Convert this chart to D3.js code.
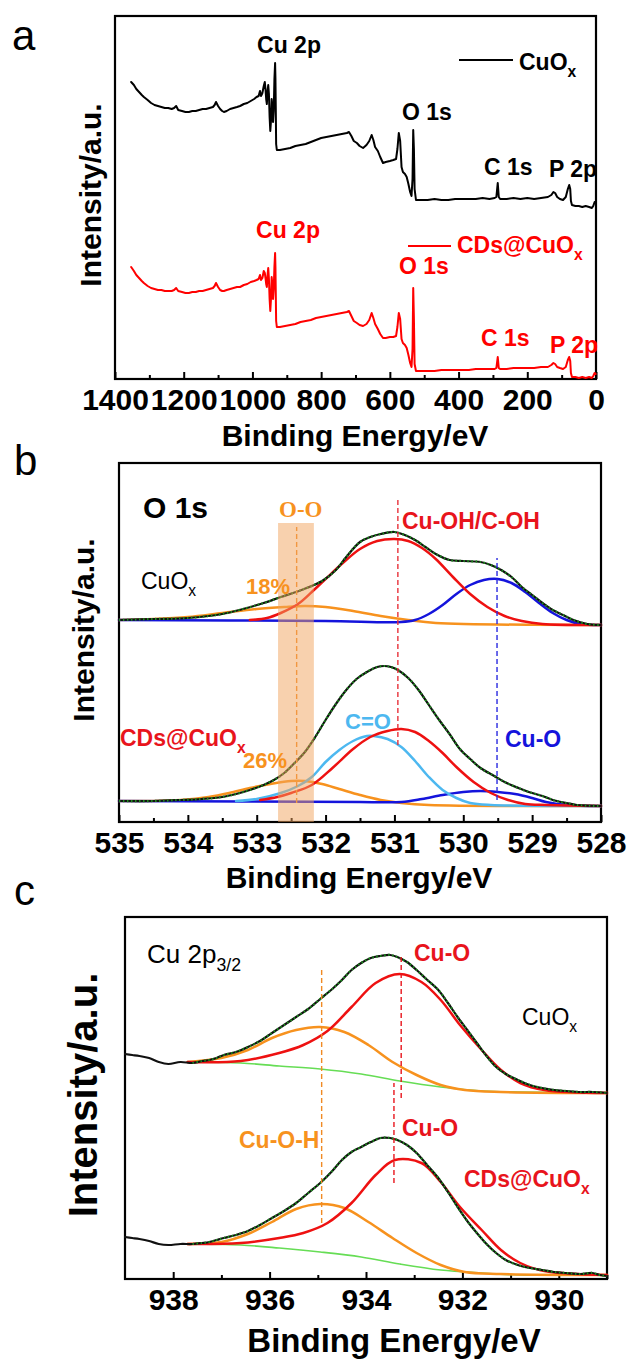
<!DOCTYPE html>
<html>
<head>
<meta charset="utf-8">
<script src="https://cdn.jsdelivr.net/npm/d3@7"></script>
<style>
  body { margin: 0; background: #fff; }
  svg { display: block; font-family: "Liberation Sans", Arial, sans-serif; }
</style>
</head>
<body>
<svg id="fig" width="629" height="1365"></svg>
<script>
// ---- panel a: survey spectra [binding energy eV, intensity a.u.] ----
var surveyTicks = [1400, 1200, 1000, 800, 600, 400, 200, 0];
var surveyCuOx = [
  [1353,297],[1345,294],[1338,290],[1330,287],[1322,284],[1316,282],[1305,279],[1295,276],[1285,274],
  [1275,273],[1265,272],[1255,271],[1245,271],[1235,270],[1228,271],[1222,273],[1216,269],[1205,268],
  [1195,267],[1185,267],[1175,268],[1165,268],[1155,269],[1145,270],[1135,270],[1125,271],[1115,272],
  [1110,274],[1106,277],[1100,273],[1094,270],[1088,268],[1083,267],[1075,268],[1065,270],[1055,271],
  [1045,272],[1036,273],[1025,275],[1015,276],[1005,278],[995,280],[988,282],[982,283],[978,288],
  [975,283],[971,286],[967,293],[964,297],[962,290],[960,280],[958,275],[956,288],[954,294],[952,285],
  [950,262],[948,248],[946,258],[944,280],[942,272],[940,257],[938,268],[936,300],[934,316],[933,300],
  [932,270],[931,235],[929,229],[920,229],[905,230],[890,231],[875,233],[860,234],[845,235],[830,237],
  [815,239],[800,241],[785,242],[770,243],[755,244],[740,245],[725,246],[719,247],[712,243],[705,238],
  [696,236],[688,233],[678,231],[668,234],[660,238],[653,244],[648,239],[643,232],[635,228],[628,222],
  [620,216],[612,217],[600,218],[590,219],[582,220],[578,230],[574,246],[570,238],[566,212],[562,207],
  [556,205],[551,202],[546,195],[541,187],[537,183],[534,200],[532,249],[530,230],[528,190],[524,179],
  [510,179],[490,179],[470,180],[450,179],[430,179],[410,180],[390,180],[370,180],[350,180],[330,181],
  [310,180],[295,181],[290,182],[286,196],[283,182],[279,180],[260,180],[240,181],[220,180],[200,181],
  [180,180],[160,181],[140,182],[130,184],[124,187],[119,186],[113,182],[105,180],[96,179],[88,182],
  [82,190],[78,194],[75,190],[73,178],[70,174],[60,173],[50,173],[40,172],[30,173],[20,172],[12,171],
  [8,173],[4,177],[1,176]
];
var surveyCDs = [
  [1353,112],[1345,108],[1338,104],[1330,101],[1322,98],[1316,96],[1305,93],[1295,91],[1285,90],
  [1275,89],[1265,89],[1255,88],[1245,88],[1235,88],[1228,89],[1222,91],[1216,88],[1205,87],[1195,86],
  [1185,86],[1175,87],[1165,87],[1155,88],[1145,88],[1135,89],[1125,90],[1115,91],[1110,93],[1106,96],
  [1100,92],[1094,89],[1088,88],[1083,88],[1075,89],[1065,90],[1055,91],[1045,92],[1036,92],[1025,94],
  [1015,95],[1005,97],[995,98],[988,99],[982,100],[978,104],[975,99],[971,101],[967,108],[964,106],
  [962,101],[960,95],[958,92],[956,104],[954,111],[952,100],[950,80],[948,68],[946,80],[944,102],
  [942,95],[940,80],[938,90],[936,112],[934,126],[933,112],[932,85],[931,58],[929,52],[920,52],[905,53],
  [890,54],[875,55],[860,57],[845,58],[830,59],[815,61],[800,62],[785,63],[770,64],[755,65],[740,66],
  [725,67],[719,68],[712,63],[705,58],[696,56],[688,54],[678,53],[668,55],[660,59],[653,66],[648,61],
  [643,55],[635,50],[628,45],[620,41],[612,41],[600,42],[590,42],[582,43],[578,52],[574,66],[570,60],
  [566,40],[562,36],[556,34],[551,31],[546,24],[541,16],[537,12],[534,30],[532,91],[530,60],[528,15],
  [524,8],[510,8],[490,8],[470,8],[450,9],[430,9],[410,9],[390,9],[370,9],[350,10],[330,10],[310,10],
  [295,10],[290,11],[286,22],[283,11],[279,10],[260,10],[240,11],[220,11],[200,11],[180,11],[160,12],
  [140,12],[130,14],[124,16],[119,15],[113,12],[105,11],[96,10],[88,12],[82,19],[78,22],[75,18],
  [73,6],[70,2],[60,2],[50,1],[40,2],[30,1],[20,2],[12,1],[8,3],[4,6],[1,5]
];

// ---- panel b: O 1s ----
var o1sTicks = [535, 534, 533, 532, 531, 530, 529, 528];
var o1sEnvCuOx = [
  [535,202],[534.5,203],[534,204],[533.5,208],[533.2,213],[532.9,219],[532.65,225],[532.35,232],
  [532.05,241],[531.85,252],[531.7,265],[531.5,280],[531.35,285],[531.2,288],[531,290],[530.85,287],
  [530.7,282],[530.55,275],[530.4,268],[530.2,262],[530,261],[529.75,260],[529.6,257],[529.45,252],
  [529.3,245],[529.15,235],[529,227],[528.85,219],[528.7,212],[528.55,207],[528.4,202],[528.2,198],[528,197]
];
var o1sRedCuOx = [
  [533.1,202],[532.85,204],[532.65,209],[532.4,218],[532.2,230],[532,243],[531.75,259],[531.5,273],
  [531.25,281],[531,283],[530.8,281],[530.6,274],[530.4,263],[530.15,245],[529.9,228],[529.65,215],
  [529.4,206],[529.15,201],[528.85,198],[528,197]
];
var o1sBlueCuOx = [
  [535,202],[532,201],[530.9,200],[530.7,202],[530.5,208],[530.3,217],[530.1,228],[529.9,237],
  [529.7,242],[529.5,243],[529.3,239],[529.1,230],[528.9,219],[528.7,209],[528.5,202],[528.3,198],[528,197]
];
var o1sOrangeCuOx = [
  [535,202],[534.5,203],[534,205],[533.5,209],[533,213],[532.6,215],[532.3,216],[532,215],[531.6,211],
  [531.2,206],[530.8,202],[530.4,199],[528,197]
];
var o1sEnvCDs = [
  [535,21],[534.5,21],[534.1,22],[533.8,23],[533.5,25],[533.3,28],[533.1,32],[532.9,37],[532.75,42],
  [532.6,49],[532.45,59],[532.3,70],[532.15,85],[532,102],[531.85,118],[531.7,132],[531.55,143],
  [531.4,150],[531.25,155],[531.15,156],[531.05,155],[530.95,152],[530.8,144],[530.65,132],[530.5,117],
  [530.35,102],[530.2,88],[530.05,73],[529.9,63],[529.75,54],[529.55,46],[529.4,40],[529.2,34],
  [529.05,30],[528.85,26],[528.7,22],[528.5,19],[528.35,17],[528,16]
];
var o1sRedCDs = [
  [532.95,22],[532.7,25],[532.5,29],[532.2,37],[531.9,54],[531.6,73],[531.35,85],[531.1,91],[530.9,93],
  [530.7,90],[530.5,81],[530.3,69],[530.1,55],[529.85,40],[529.6,29],[529.35,22],[529.1,18],[528.8,17],[528,16]
];
var o1sCyanCDs = [
  [533.3,21],[533,23],[532.65,29],[532.4,36],[532.2,45],[532,60],[531.8,72],[531.6,81],[531.4,86],
  [531.3,86],[531.1,83],[530.9,75],[530.7,61],[530.5,45],[530.3,32],[530.1,24],[529.9,19],[529.6,17],[528,16]
];
var o1sOrangeCDs = [
  [535,21],[534.5,21],[534.1,22],[533.7,25],[533.4,29],[533.1,34],[532.8,38],[532.5,41],[532.3,41],
  [532.05,38],[531.8,33],[531.5,27],[531.2,22],[530.9,19],[530.5,17],[528,16]
];
var o1sBlueCDs = [
  [535,21],[531.5,20],[530.9,20],[530.6,23],[530.3,27],[530,30],[529.75,31],[529.5,30],[529.25,28],
  [529,24],[528.8,20],[528.5,17],[528,16]
];
// [energy, low, high] guide lines and the O-O band [from, to, top]
var o1sGuides = [[532.42, 19, 295, '#f08a24'], [530.95, 77, 322, '#e8323a'], [529.51, 22, 264, '#2a2ae0']];
var o1sBand = [532.69, 532.17, 299];

// ---- panel c: Cu 2p3/2 ----
var cuTicks = [938, 936, 934, 932, 930];
var cuRawCuOx = [
  [939,225],[938.85,224],[938.7,223],[938.5,221],[938.3,217],[938.1,215],[937.85,217],[937.6,216],
  [937.4,218],[937.25,219],[937.1,221],[936.95,224],[936.7,227],[936.45,232],[936.2,238],[935.95,246],
  [935.7,254],[935.45,262],[935.2,270],[934.95,280],[934.7,290],[934.5,299],[934.3,309],[934.1,316],
  [933.9,321],[933.7,323],[933.5,324],[933.35,322],[933.15,317],[932.95,309],[932.75,300],[932.5,289],
  [932.3,276],[932.1,262],[931.9,249],[931.7,236],[931.5,223],[931.3,212],[931.1,205],[930.85,199],
  [930.6,194],[930.35,191],[930.1,189],[929.85,188],[929.55,187],[929.3,187],[929,186]
];
var cuBgCuOx = [
  [937.7,217],[936.6,216],[935.8,213],[934.95,210],[934.1,205],[933.3,198],[932.45,192],[931.6,188],[930.8,187],[929,186]
];
var cuOrangeCuOx = [
  [937.7,217],[937,221],[936.45,229],[935.95,241],[935.45,249],[934.95,252],[934.45,247],[933.95,234],
  [933.45,217],[932.95,204],[932.45,194],[931.95,189],[931.2,187],[929,186]
];
var cuRedCuOx = [
  [937.7,217],[936.6,218],[935.8,226],[935.3,234],[934.8,248],[934.3,272],[933.8,296],[933.3,305],
  [932.85,297],[932.45,279],[932.05,254],[931.6,229],[931.2,209],[930.8,196],[930.3,189],[929,186]
];
var cuRawCDs = [
  [939,42],[938.85,41],[938.7,40],[938.5,38],[938.3,35],[938.1,34],[937.85,35],[937.6,35],[937.4,36],
  [937.25,37],[937.1,39],[936.95,41],[936.7,44],[936.45,48],[936.2,54],[935.95,61],[935.7,68],
  [935.45,76],[935.2,86],[934.95,96],[934.7,108],[934.5,119],[934.3,127],[934.1,132],[933.9,137],
  [933.7,141],[933.5,141],[933.35,139],[933.15,134],[932.95,126],[932.75,115],[932.5,101],[932.3,87],
  [932.1,72],[931.9,58],[931.7,46],[931.5,35],[931.3,26],[931.1,19],[930.85,14],[930.6,11],[930.35,9],
  [930.1,7],[929.85,6],[929.55,5],[929.3,6],[929.15,4],[929,3]
];
var cuBgCDs = [
  [937.7,35],[936.6,34],[935.8,31],[934.95,27],[934.1,22],[933.3,15],[932.45,9],[931.6,6],[930.8,4],[929,4]
];
var cuOrangeCDs = [
  [937.7,35],[937,37],[936.45,45],[935.95,57],[935.45,70],[934.95,75],[934.45,71],[933.95,57],
  [933.45,41],[932.95,26],[932.45,14],[931.95,7],[931.2,5],[929,4]
];
var cuRedCDs = [
  [937.7,35],[936.6,36],[935.8,41],[935.3,46],[934.8,56],[934.3,76],[933.8,104],[933.4,119],
  [932.85,116],[932.45,97],[932.05,72],[931.6,49],[931.2,29],[930.8,16],[930.3,8],[929,4]
];
var cuGuides = [[934.92, 56, 310, '#f08a24'], [933.27, 181, 324, '#e8141c'], [933.42, 96, 196, '#e8141c']];

var RED = '#ee1111', ORANGE = '#f7921e', BLUE = '#1414dc', CYAN = '#4db8f0',
    DKGREEN = '#1f8c1f', LTGREEN = '#66dd55';

var svg = d3.select('#fig');
svg.append('rect').attr('width', 629).attr('height', 1365).attr('fill', '#fff');

function makePanel(opts) {
    var g = svg.append('g');
    var x = d3.scaleLinear().domain(opts.xDomain).range([opts.left, opts.right]);
    var y = d3.scaleLinear().domain(opts.yDomain).range([opts.bottom, opts.top]);

    // minor ticks, then labelled ticks, both pointing into the box
    g.append('g')
        .attr('transform', 'translate(0,' + opts.bottom + ')')
        .call(d3.axisBottom(x).tickValues(opts.minor).tickSize(-4).tickFormat(''))
        .call(a => a.select('.domain').remove())
        .selectAll('line').attr('stroke-width', 2);
    var ax = g.append('g')
        .attr('transform', 'translate(0,' + opts.bottom + ')')
        .call(d3.axisBottom(x).tickValues(opts.ticks).tickSize(-7).tickPadding(10).tickFormat(d3.format('d')));
    ax.select('.domain').remove();
    ax.selectAll('line').attr('stroke-width', 2);
    ax.selectAll('text')
        .attr('font-family', '"Liberation Sans", Arial, sans-serif')
        .attr('font-size', 30).attr('font-weight', 'bold').attr('fill', '#000');

    g.append('rect')
        .attr('x', opts.left).attr('y', opts.top)
        .attr('width', opts.right - opts.left).attr('height', opts.bottom - opts.top)
        .attr('fill', 'none').attr('stroke', '#000').attr('stroke-width', 2.2);

    g.append('text')
        .attr('x', opts.xLabel[0]).attr('y', opts.xLabel[1])
        .attr('text-anchor', 'middle').attr('font-weight', 'bold')
        .attr('font-size', opts.xLabel[2]).text('Binding Energy/eV');
    g.append('text')
        .attr('transform', 'translate(' + opts.yLabel[0] + ',' + opts.yLabel[1] + ') rotate(-90)')
        .attr('text-anchor', 'middle').attr('font-weight', 'bold')
        .attr('font-size', opts.yLabel[2]).text('Intensity/a.u.');
    g.append('text')
        .attr('x', opts.letter[1]).attr('y', opts.letter[2])
        .attr('font-size', 42).text(opts.letter[0]);

    return { g: g, x: x, y: y };
}

function drawLine(p, data, color, width, curve, dash) {
    var line = d3.line()
        .x(d => p.x(d[0]))
        .y(d => p.y(d[1]))
        .curve(curve || d3.curveLinear);
    var path = p.g.append('path')
        .datum(data)
        .attr('d', line)
        .attr('fill', 'none')
        .attr('stroke', color)
        .attr('stroke-width', width)
        .attr('stroke-linejoin', 'round')
        .attr('stroke-linecap', 'round');
    if (dash) path.attr('stroke-dasharray', dash);
    return path;
}

function guide(p, d) {
    p.g.append('line')
        .attr('x1', p.x(d[0])).attr('x2', p.x(d[0]))
        .attr('y1', p.y(d[1])).attr('y2', p.y(d[2]))
        .attr('stroke', d[3]).attr('stroke-width', 1.4)
        .attr('stroke-dasharray', '5,3');
}

// text with an optional subscript tail
function label(p, x, y, main, sub, color, size, opts) {
    opts = opts || {};
    var t = p.g.append('text')
        .attr('x', x).attr('y', y)
        .attr('fill', color)
        .attr('font-size', size)
        .attr('font-weight', opts.weight || 'bold')
        .attr('text-anchor', opts.anchor || 'start');
    if (opts.family) t.attr('font-family', opts.family);
    t.append('tspan').text(main);
    if (sub) {
        t.append('tspan')
            .attr('font-size', size * 0.68)
            .attr('dy', size * 0.3)
            .text(sub);
    }
    return t;
}

// ---------------- panel a ----------------
var pa = makePanel({
    left: 115, right: 596, top: 16, bottom: 379,
    xDomain: [1400, 0], yDomain: [0, 363],
    ticks: surveyTicks, minor: d3.range(1300, 0, -200),
    xLabel: [355, 446, 30], yLabel: [101, 195, 30], letter: ['a', 12, 50]
});
drawLine(pa, surveyCuOx, '#000', 2);
drawLine(pa, surveyCDs, '#ff0000', 2);

label(pa, 289, 53, 'Cu 2p', null, '#000', 23, { anchor: 'middle' });
pa.g.append('line').attr('x1', 459).attr('x2', 513).attr('y1', 60).attr('y2', 60)
    .attr('stroke', '#000').attr('stroke-width', 2.2);
label(pa, 519, 70, 'CuO', 'x', '#000', 23);
label(pa, 402, 120, 'O 1s', null, '#000', 23);
label(pa, 484, 175, 'C 1s', null, '#000', 23);
label(pa, 549, 177, 'P 2p', null, '#000', 23);

label(pa, 288, 238, 'Cu 2p', null, '#ff0000', 23, { anchor: 'middle' });
pa.g.append('line').attr('x1', 408).attr('x2', 451).attr('y1', 246).attr('y2', 246)
    .attr('stroke', '#ff0000').attr('stroke-width', 2.2);
label(pa, 457, 253, 'CDs@CuO', 'x', '#ff0000', 23);
label(pa, 399, 274, 'O 1s', null, '#ff0000', 23);
label(pa, 481, 346, 'C 1s', null, '#ff0000', 23);
label(pa, 550, 353, 'P 2p', null, '#ff0000', 23);

// ---------------- panel b ----------------
var pb = makePanel({
    left: 119, right: 601, top: 463, bottom: 822,
    xDomain: [535, 528], yDomain: [0, 359],
    ticks: o1sTicks, minor: d3.range(534.5, 528, -1),
    xLabel: [359, 888, 30], yLabel: [94, 630, 30], letter: ['b', 14, 475]
});
var smooth = d3.curveCatmullRom.alpha(0.5);
[[o1sOrangeCuOx, ORANGE], [o1sBlueCuOx, BLUE], [o1sRedCuOx, RED],
 [o1sOrangeCDs, ORANGE], [o1sBlueCDs, BLUE], [o1sCyanCDs, CYAN], [o1sRedCDs, RED]]
    .forEach(s => drawLine(pb, s[0], s[1], 2.5, smooth));
[o1sEnvCuOx, o1sEnvCDs].forEach(env => {
    drawLine(pb, env, '#111', 2.2, smooth);
    drawLine(pb, env, DKGREEN, 2.2, smooth, '1.5,2.5').attr('stroke-linecap', 'butt');
});
o1sGuides.forEach(d => guide(pb, d));
pb.g.append('rect')
    .attr('x', pb.x(o1sBand[0])).attr('width', pb.x(o1sBand[1]) - pb.x(o1sBand[0]))
    .attr('y', pb.y(o1sBand[2])).attr('height', pb.y(0) - pb.y(o1sBand[2]))
    .attr('fill', '#f2a35e').attr('opacity', 0.5);

label(pb, 143, 518, 'O 1s', null, '#000', 30);
label(pb, 279, 517, 'O-O', null, ORANGE, 23, { family: '"Liberation Serif", "Times New Roman", serif' });
label(pb, 402, 529, 'Cu-OH/C-OH', null, '#e8141c', 23);
label(pb, 141, 589, 'CuO', 'x', '#000', 23, { weight: 'normal' });
label(pb, 246, 594, '18%', null, ORANGE, 22);
label(pb, 345, 729, 'C=O', null, CYAN, 22);
label(pb, 120, 746, 'CDs@CuO', 'x', '#e8141c', 23);
label(pb, 243, 768, '26%', null, ORANGE, 22);
label(pb, 505, 747, 'Cu-O', null, BLUE, 23);

// ---------------- panel c ----------------
var pc = makePanel({
    left: 125, right: 607, top: 917, bottom: 1279,
    xDomain: [939, 929], yDomain: [0, 362],
    ticks: cuTicks, minor: d3.range(937, 928, -2),
    xLabel: [394, 1352, 33], yLabel: [97, 1095, 40], letter: ['c', 14, 905]
});
[[cuBgCuOx, LTGREEN, 1.6], [cuOrangeCuOx, ORANGE, 2.5], [cuRedCuOx, RED, 2.5],
 [cuBgCDs, LTGREEN, 1.6], [cuOrangeCDs, ORANGE, 2.5], [cuRedCDs, RED, 2.5]]
    .forEach(s => drawLine(pc, s[0], s[1], s[2], smooth));
[cuRawCuOx, cuRawCDs].forEach(raw => {
    drawLine(pc, raw, '#111', 2.2, smooth);
    drawLine(pc, raw.filter(d => d[0] <= 937.7), DKGREEN, 2.2, smooth, '1.5,2.5')
        .attr('stroke-linecap', 'butt');
});
cuGuides.forEach(d => guide(pc, d));

label(pc, 147, 963, 'Cu 2p', '3/2', '#000', 26, { weight: 'normal' });
label(pc, 414, 961, 'Cu-O', null, '#e8141c', 23);
label(pc, 522, 1025, 'CuO', 'x', '#000', 23, { weight: 'normal' });
label(pc, 402, 1136, 'Cu-O', null, '#e8141c', 23);
label(pc, 239, 1148, 'Cu-O-H', null, ORANGE, 23);
label(pc, 464, 1187, 'CDs@CuO', 'x', '#e8141c', 23);
</script>
</body>
</html>
